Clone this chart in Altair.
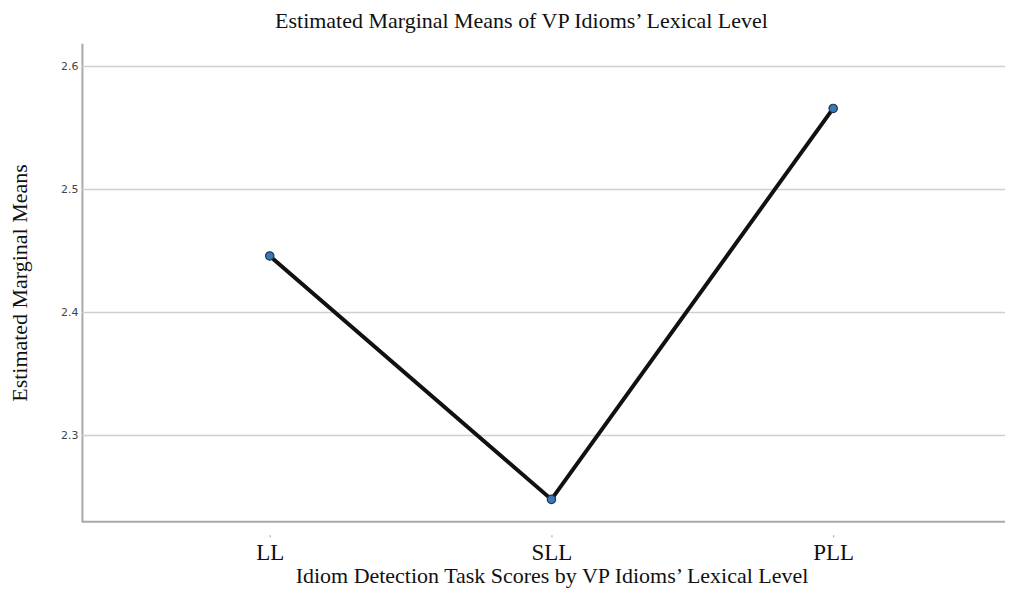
import altair as alt
import pandas as pd

categories = ["LL", "SLL", "PLL"]
means = [2.446, 2.248, 2.566]
y_ticks = [2.3, 2.4, 2.5, 2.6]

df = pd.DataFrame({"level": categories, "mean": means})
grid_df = pd.DataFrame({"tick": y_ticks})

SERIF = "Liberation Serif"
W, H = 924, 479

x_enc = alt.X(
    "level:N",
    sort=categories,
    scale=alt.Scale(type="point", range=[188, 752], padding=0),
    axis=alt.Axis(
        title="Idiom Detection Task Scores by VP Idioms\u2019 Lexical Level",
        titleFont=SERIF, titleFontSize=22, titleFontWeight="normal", titleColor="#111",
        titlePadding=1,
        labelFont=SERIF, labelFontSize=23, labelColor="#111", labelPadding=5,
        labelAngle=0,
        domain=False, ticks=True, tickSize=2, tickColor="#999", tickWidth=1,
        offset=13, grid=False,
    ),
)
y_scale = alt.Scale(domain=[2.2298, 2.619], nice=False, zero=False)
y_enc = alt.Y(
    "mean:Q",
    scale=y_scale,
    axis=alt.Axis(
        values=y_ticks, format=".1f",
        title="Estimated Marginal Means",
        titleFont=SERIF, titleFontSize=22, titleFontWeight="normal", titleColor="#111",
        titlePadding=29,
        labelFont="DejaVu Sans", labelFontSize=11, labelColor="#444", labelPadding=4,
        tickSize=0, domainColor="#a8a8a8", domainWidth=2,
        grid=False,
    ),
)

grid = alt.Chart(grid_df).mark_rule(color="#cfcfcf", strokeWidth=1.5).encode(
    y=alt.Y("tick:Q", scale=y_scale), x=alt.value(0), x2=alt.value(W)
)
bottom = alt.Chart(pd.DataFrame({"a": [0]})).mark_rule(color="#a8a8a8", strokeWidth=2).encode(
    x=alt.value(0), x2=alt.value(W), y=alt.value(H)
)
base = alt.Chart(df)
line = base.mark_line(color="#111111", strokeWidth=4).encode(x=x_enc, y=y_enc)
pts = base.mark_point(filled=True, size=70, color="#3b78b8", stroke="#1f3550",
                      strokeWidth=1.2, opacity=1).encode(x=x_enc, y=y_enc)

chart = (
    alt.layer(grid, bottom, line, pts)
    .properties(
        width=W, height=H,
        title=alt.TitleParams(
            "Estimated Marginal Means of VP Idioms\u2019 Lexical Level",
            font=SERIF, fontSize=22, fontWeight="normal", color="#111",
            anchor="middle", offset=10, dx=-22,
        ),
        padding={"left": 74, "top": 35, "right": 0, "bottom": 72},
        autosize=alt.AutoSizeParams(type="none"),
        view=alt.ViewBackground(stroke="white", strokeWidth=0, fill="white"),
    )
    .configure_view(stroke="white", strokeWidth=0)
    .configure(background="white")
)

chart.save("out.html", embed_options={"renderer": "svg", "actions": False})
